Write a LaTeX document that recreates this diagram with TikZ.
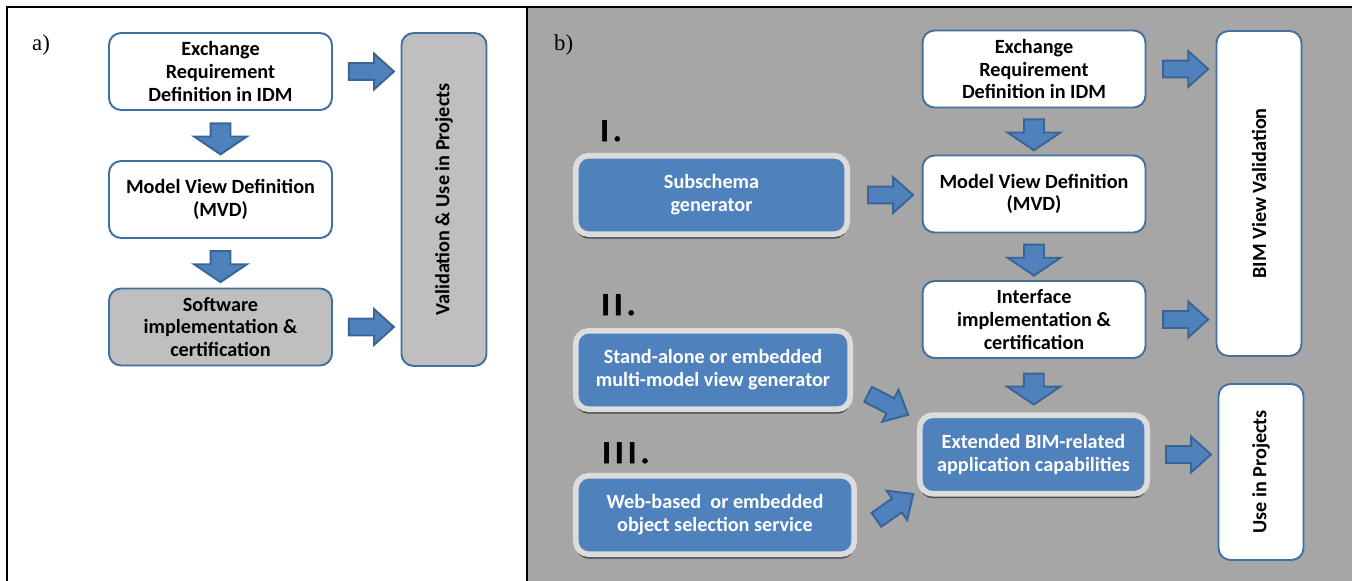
\documentclass[tikz,border=0pt]{standalone}
\usepackage{fontspec}
\setmainfont{Carlito}
\newfontfamily\timesfont{Liberation Serif}
\usetikzlibrary{positioning,calc,shapes.arrows,shadows}
\definecolor{boxline}{HTML}{41719C}
\definecolor{arrowfill}{HTML}{4F81BD}
\definecolor{arrowline}{HTML}{3A6496}
\definecolor{panelgray}{HTML}{A6A6A6}
\definecolor{boxgray}{HTML}{BFBFBF}
\definecolor{rimgray}{HTML}{DCDCDC}

\begin{document}
\begin{tikzpicture}[x=0.02cm, y=-0.02cm,
    every node/.style={align=center, font=\fontsize{11.5}{13}\selectfont\bfseries},
    stagebox/.style={rectangle, rounded corners=0.24cm, draw=boxline, line width=1.1pt,
      fill=white, minimum width=4.46cm, minimum height=1.54cm, inner sep=1pt},
    sidebox/.style={stagebox, rotate=90, minimum height=1.7cm},
    toolbox/.style={rectangle, rounded corners=0.26cm, draw=rimgray, line width=3.2pt,
      fill=arrowfill, text=white, minimum height=1.57cm, inner sep=1pt,
      drop shadow={shadow xshift=0pt, shadow yshift=-0.09cm, fill=black!70, opacity=1}},
    rarrow/.style={single arrow, draw=arrowline, fill=arrowfill, line width=1.1pt,
      minimum height=0.9cm, inner sep=0.15cm, single arrow head extend=0.19cm,
      single arrow tip angle=84},
    darrow/.style={rarrow, rotate=-90, minimum height=0.62cm, inner sep=0.18cm,
      single arrow head extend=0.33cm, single arrow tip angle=112},
    numlabel/.style={anchor=base west, font=\fontsize{18}{18}\selectfont\bfseries\addfontfeature{LetterSpace=14,FakeBold=2}},
    panellabel/.style={anchor=base west, font=\timesfont\fontsize{13}{13}\selectfont}
  ]
  \useasboundingbox (0,0) rectangle (1352,581);

  % panels
  \fill[panelgray] (527,7) rectangle (1352,581);
  \draw[line width=1.6pt] (7,581) -- (7,7) -- (1352,7);
  \draw[line width=1.6pt] (527,7) -- (527,581);
  \node[panellabel] (labA) at (26,51) {a)};
  \node[panellabel] (labB) at (548,51) {b)};

  % a) current process
  \node[stagebox] (erdA) at (220.5,71.5) {Exchange\\Requirement\\Definition in IDM};
  \node[stagebox] (mvdA) at (220.5,199.5) {Model View Definition\\(MVD)};
  \node[stagebox, fill=boxgray] (softA) at (220.5,327) {Software\\implementation \&\\certification};
  \node[sidebox, fill=boxgray, minimum width=6.66cm] (valA) at (444,199.5) {Validation \& Use in Projects};

  \node[darrow] at ($(erdA.south)!0.5!(mvdA.north)$) {};
  \node[darrow] at ($(mvdA.south)!0.5!(softA.north)$) {};
  \node[rarrow] at ($(erdA.east)!0.5!(erdA.east -| valA.north)$) {};
  \node[rarrow] at ($(softA.east)!0.5!(softA.east -| valA.north)$) {};

  % b) extended process
  \node[stagebox] (erdB) at (1034,69) {Exchange\\Requirement\\Definition in IDM};
  \node[stagebox] (mvdB) at (1034,194) {Model View Definition\\(MVD)};
  \node[stagebox] (ifB) at (1034,319.5) {Interface\\implementation \&\\certification};
  \node[sidebox, minimum width=6.5cm] (bimB) at (1259,193.5) {BIM View Validation};
  \node[toolbox, minimum width=4.55cm] (extB) at (1033.5,454.5) {Extended BIM-related\\application capabilities};
  \node[sidebox, minimum width=3.52cm] (useB) at (1261,472) {Use in Projects};

  \node[numlabel] (numI) at (594,141) {I.};
  \node[toolbox, minimum width=5.43cm] (subB) at (711.5,195) {Subschema\\generator};
  \node[numlabel] (numII) at (595,315) {II.};
  \node[toolbox, minimum width=5.49cm] (standB) at (713,370) {Stand-alone or embedded\\multi-model view generator};
  \node[numlabel] (numIII) at (596,463) {III.};
  \node[toolbox, minimum width=5.57cm] (webB) at (715,515) {Web-based\ \ or embedded\\object selection service};

  \node[darrow] at ($(erdB.south)!0.5!(mvdB.north)$) {};
  \node[darrow] at ($(mvdB.south)!0.5!(ifB.north)$) {};
  \node[darrow] at ($(ifB.south)!0.5!(extB.north)$) {};
  \node[rarrow] at ($(erdB.east)!0.5!(erdB.east -| bimB.north)$) {};
  \node[rarrow] at ($(ifB.east)!0.5!(ifB.east -| bimB.north)$) {};
  \node[rarrow] at ($(extB.east)!0.5!(extB.east -| useB.north)$) {};
  \node[rarrow] at ($(subB.east)!0.5!(subB.east -| mvdB.west)$) {};
  \node[rarrow, rotate=-27] at ($(extB.north west)+(-33,-10)$) {};
  \node[rarrow, rotate=35] at ($(extB.south west)+(-26,13)$) {};
\end{tikzpicture}
\end{document}
